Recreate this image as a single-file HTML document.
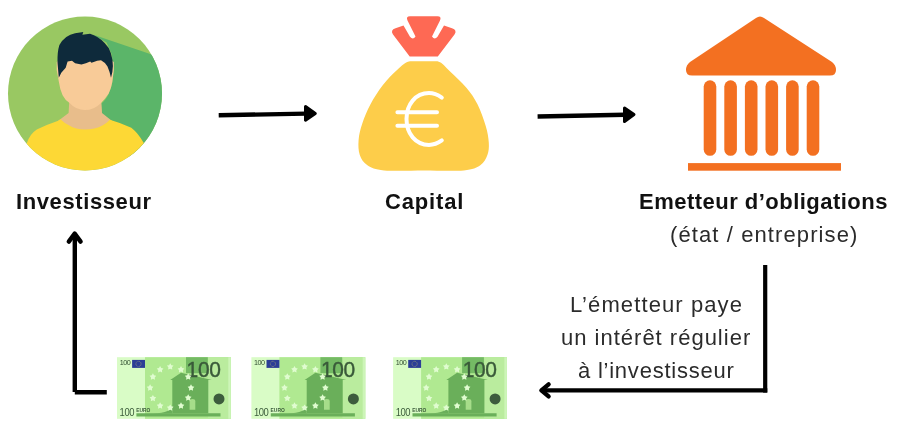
<!DOCTYPE html>
<html><head><meta charset="utf-8">
<style>
html,body{margin:0;padding:0;background:#fff;width:897px;height:438px;overflow:hidden;position:relative;font-family:"Liberation Sans",sans-serif;}
.t{position:absolute;white-space:nowrap;line-height:1;will-change:transform;}
.b{font-weight:bold;color:#111;font-size:22px;letter-spacing:0.6px;}
.r{color:#2b2b2b;font-size:22px;letter-spacing:1.1px;}
svg{position:absolute;left:0;top:0;will-change:transform;}
</style></head><body>
<svg width="897" height="438" viewBox="0 0 897 438">
  <defs>
    <clipPath id="cc"><circle cx="85" cy="93.5" r="77"/></clipPath>
    <g id="note">
      <rect x="0" y="0" width="113.8" height="61.6" fill="#d9fcc6"/>
      <rect x="28" y="0" width="85.8" height="61.6" fill="#b0e991"/>
      <rect x="91" y="0" width="22.8" height="61.6" fill="#baec9e"/>
      <rect x="111.3" y="0" width="2.5" height="61.6" fill="#cdf5b8"/>
      <rect x="69" y="0" width="21.8" height="16" fill="#74ba64"/>
      <path d="M64 15.6 L53.2 22.8 L55.3 22.8 L55.3 56 L91.3 56 L91.3 22.8 L94.9 22.8 Z" fill="#6aaf5a"/>
      <path d="M19.4 56 L103.5 56 L103.5 59.2 L19.4 59.2 Z" fill="#6aaf5a"/>
      <path d="M36 56.2 Q55.3 56.2 55.3 46 L55.3 56.2 Z" fill="#6aaf5a"/>
      <path d="M72.6 52.5 L72.6 44 Q72.6 41.7 75.4 41.7 Q78.3 41.7 78.3 44 L78.3 52.5 Z" fill="#a6dd8a"/>
      <circle cx="102" cy="41.7" r="5.5" fill="#3d5c3d"/>
      <rect x="15.1" y="2.7" width="12.9" height="8" fill="#2c3e96"/>
      <circle cx="21.5" cy="6.7" r="2.6" fill="none" stroke="#c9c36a" stroke-width="0.6" stroke-dasharray="0.7 0.7"/>
      <text x="2.7" y="8.3" font-family="Liberation Sans" font-size="7.2" fill="#2d4a2d" letter-spacing="-0.5">100</text>
      <g transform="translate(69.6 19.7) scale(0.92 1)"><text x="0" y="0" font-family="Liberation Sans" font-size="22.8" fill="#395939" stroke="#395939" stroke-width="0.45" letter-spacing="-0.4">100</text></g>
      <g transform="translate(2.6 58.3) scale(0.9 1)"><text x="0" y="0" font-family="Liberation Sans" font-size="10.5" fill="#3a5a3a" letter-spacing="-0.5">100</text></g>
      <text x="19.2" y="54.6" font-family="Liberation Sans" font-weight="bold" font-size="4.9" fill="#3a5a3a" letter-spacing="0">EURO</text>
      <path fill="#e0fcd0" d="M53.20 6.00 L54.33 7.94 L56.53 8.42 L55.03 10.09 L55.26 12.33 L53.20 11.43 L51.14 12.33 L51.37 10.09 L49.87 8.42 L52.07 7.94Z M43.10 8.90 L44.23 10.84 L46.43 11.32 L44.93 12.99 L45.16 15.23 L43.10 14.33 L41.04 15.23 L41.27 12.99 L39.77 11.32 L41.97 10.84Z M64.00 8.90 L65.13 10.84 L67.33 11.32 L65.83 12.99 L66.06 15.23 L64.00 14.33 L61.94 15.23 L62.17 12.99 L60.67 11.32 L62.87 10.84Z M35.90 16.10 L37.03 18.04 L39.23 18.52 L37.73 20.19 L37.96 22.43 L35.90 21.52 L33.84 22.43 L34.07 20.19 L32.57 18.52 L34.77 18.04Z M71.20 16.10 L72.33 18.04 L74.53 18.52 L73.03 20.19 L73.26 22.43 L71.20 21.52 L69.14 22.43 L69.37 20.19 L67.87 18.52 L70.07 18.04Z M33.10 27.10 L34.23 29.04 L36.43 29.52 L34.93 31.19 L35.16 33.43 L33.10 32.52 L31.04 33.43 L31.27 31.19 L29.77 29.52 L31.97 29.04Z M74.00 27.10 L75.13 29.04 L77.33 29.52 L75.83 31.19 L76.06 33.43 L74.00 32.52 L71.94 33.43 L72.17 31.19 L70.67 29.52 L72.87 29.04Z M35.90 37.70 L37.03 39.64 L39.23 40.12 L37.73 41.79 L37.96 44.03 L35.90 43.12 L33.84 44.03 L34.07 41.79 L32.57 40.12 L34.77 39.64Z M71.20 37.10 L72.33 39.04 L74.53 39.52 L73.03 41.19 L73.26 43.43 L71.20 42.52 L69.14 43.43 L69.37 41.19 L67.87 39.52 L70.07 39.04Z M43.10 45.10 L44.23 47.04 L46.43 47.52 L44.93 49.19 L45.16 51.43 L43.10 50.52 L41.04 51.43 L41.27 49.19 L39.77 47.52 L41.97 47.04Z M64.00 45.10 L65.13 47.04 L67.33 47.52 L65.83 49.19 L66.06 51.43 L64.00 50.52 L61.94 51.43 L62.17 49.19 L60.67 47.52 L62.87 47.04Z M53.20 47.20 L54.33 49.14 L56.53 49.62 L55.03 51.29 L55.26 53.53 L53.20 52.62 L51.14 53.53 L51.37 51.29 L49.87 49.62 L52.07 49.14Z"/>
    </g>
  </defs>
  <!-- avatar -->
  <circle cx="85" cy="93.5" r="77" fill="#99c862"/>
  <g clip-path="url(#cc)">
    <path d="M92.7 34.4 L200 71 L200 200 L150 200 L109.9 119.8 L102 114 L101.2 103.4 Q106 100 108.6 93.7 Q112 86 112.3 81.9 L113.8 70 L112.8 62.7 L111.6 53.9 L106.6 42.6 Z" fill="#5bb569"/>
    <path d="M69.3 100 L68.6 113 L58 121 L60 134 L112 134 L112 121 L102 113 L101.2 100 Z" fill="#e8bd8b"/>
    <path d="M10 200 L20 150 L26.9 143 Q30 134 36.8 129.6 Q48 124 58.2 120.7 L60.4 119.3 Q64 123 68.9 125.2 Q76 129.6 84.9 129.6 Q95 129.6 102.8 125.2 Q107 123 109.9 119.8 Q121 123 131.3 127.8 Q138 133 143.8 143 L160 200 Z" fill="#fdd835"/>
    <path d="M56.7 62 L56.7 70 L58.9 81.9 Q60 90 62.6 95.2 Q65 100 69.3 102.7 Q76 110 84.9 110 Q94 110 100.5 103.4 Q105 99 108.6 93.7 Q111.5 87 112.3 81.9 L113.8 70 L113.8 62 Q100 52 85 52 Q70 52 56.7 62 Z" fill="#f8cb98"/>
    <path d="M58.8 77.8 L57.5 62.7 Q57.2 52 59.4 45.1 Q62 40 66.3 36.9 Q70 34.5 75.1 33.2 L83.3 31.9 L82.4 34.8 L90 33.7 Q98 36 104.6 42.9 Q109 47 110.8 53 Q113 60 112.9 66 Q112.8 72 111 77.8 Q109.5 71 107.5 66.5 Q105.5 62.5 101 60.2 Q97 60.5 93.7 62 L91.5 62.7 L90.2 61.4 Q86 63.5 81.4 64.6 L75.1 63.3 L72 60.8 L67.6 61.4 L65.7 67.7 L61.3 72.8 Z" fill="#0e2a3b"/>
  </g>
  <!-- money bag -->
  <path d="M409.7 56.6 L437.8 56.6 L454.5 34.5 Q457.5 30 452 28.3 L444 25.6 L437.5 36.8 Q434.5 40.5 432 36.5 L440 20.5 Q441.8 16.2 437.5 16.2 L410 16.2 Q405.7 16.2 407.5 20.5 L415.5 36.5 Q413 40.5 410 36.8 L403.5 25.6 L395.5 28.3 Q390 30 393 34.5 Z" fill="#fe6954"/>
  <path d="M410 61.2 L437.5 61.2 C443 62.5 445.2 67.0 450.1 71.4 C455.0 75.9 462.0 82.4 466.6 87.9 C471.2 93.4 474.3 97.9 477.5 104.3 C480.7 110.7 483.9 119.8 485.8 126.2 C487.7 132.6 488.5 137.9 488.8 142.7 C489.1 147.5 488.8 151.2 487.4 155.0 C486.0 158.8 484.2 162.6 480.3 165.2 C476.4 167.8 473.2 169.5 463.8 170.4 C454.4 171.3 437.3 170.6 424.0 170.6 C410.7 170.6 393.5 171.3 384.1 170.4 C374.7 169.5 371.4 167.8 367.4 165.2 C363.3 162.6 361.3 159.2 359.8 155.0 C358.3 150.8 358.2 145.2 358.6 140.0 C359.0 134.8 360.3 129.4 362.3 123.5 C364.3 117.5 367.1 110.7 370.5 104.3 C373.9 97.9 378.4 90.9 382.9 85.1 C387.4 79.3 393.1 73.5 397.6 69.5 C402.1 65.5 404 62.5 410 61.2 Z" fill="#fdcd4a"/>
  <g fill="none" stroke="#fff" stroke-width="4" stroke-linecap="round">
    <path d="M441.8 97.6 C437.5 94.6 433 93.1 429 93.1 C415.5 93.1 406.5 104.5 406.5 119 C406.5 133.5 415.5 144.9 429 144.9 C433 144.9 437.5 143.5 441.8 140.4"/>
    <path d="M397.4 112.2 L437 112.2 M397.4 125.8 L437 125.8"/>
  </g>
  <!-- bank -->
  <path d="M760 16.5 Q758 16.5 756 18 L690 62 Q686 65 686 70 Q686 75.5 692 75.5 L830 75.5 Q836 75.5 836 70 Q836 65 832 62 L764 18 Q762 16.5 760 16.5 Z" fill="#f37021"/>
  <g fill="#f37021">
    <rect x="703.7" y="80.3" width="12.6" height="75.5" rx="6.3"/>
    <rect x="724.3" y="80.3" width="12.6" height="75.5" rx="6.3"/>
    <rect x="744.9" y="80.3" width="12.6" height="75.5" rx="6.3"/>
    <rect x="765.5" y="80.3" width="12.6" height="75.5" rx="6.3"/>
    <rect x="786.1" y="80.3" width="12.6" height="75.5" rx="6.3"/>
    <rect x="806.7" y="80.3" width="12.6" height="75.5" rx="6.3"/>
    <rect x="688" y="163.1" width="153" height="7.6"/>
  </g>
  <!-- arrows -->
  <g stroke="#000" stroke-width="4.4" fill="none" stroke-linecap="butt">
    <path d="M218.7 115.3 L306 113.6"/>
    <path d="M537.6 116.5 L625 114.7"/>
    <path d="M74.8 392 L74.8 236" />
    <path d="M74.8 392.2 L106.8 392.2"/>
    <path d="M765.2 265 L765.2 392.6" stroke-width="4.2"/>
    <path d="M767.3 390.4 L541 390.4"/>
  </g>
  <g fill="#000" stroke="#000" stroke-width="3" stroke-linejoin="round">
    <path d="M305.5 106.5 L315.3 113.4 L305.5 120.2 Z"/>
    <path d="M624.5 107.9 L634 114.5 L624.5 121.5 Z"/>
  </g>
  <g stroke="#000" stroke-width="4.4" fill="none" stroke-linecap="round" stroke-linejoin="round">
    <path d="M68.8 241.6 L74.7 233.6 L80.6 241.6"/>
    <path d="M548.6 384.4 L541.4 390.4 L548.6 396.4"/>
  </g>
  <use href="#note" x="117" y="357.2"/>
  <use href="#note" x="251.4" y="357.2"/>
  <use href="#note" x="393.1" y="357.2"/>
</svg>
<div class="t b" id="l1" style="left:15.8px;top:191px;">Investisseur</div>
<div class="t b" id="l2" style="left:385px;top:191px;letter-spacing:0.85px">Capital</div>
<div class="t b" id="l3" style="left:638.6px;top:191px;letter-spacing:0.48px">Emetteur d’obligations</div>
<div class="t r" id="l4" style="left:670px;top:224px;">(état / entreprise)</div>
<div class="t r" id="l5" style="left:570px;top:294px;">L’émetteur paye</div>
<div class="t r" id="l6" style="left:560.8px;top:327px;letter-spacing:1.0px">un intérêt régulier</div>
<div class="t r" id="l7" style="left:578px;top:360px;letter-spacing:0.77px">à l’investisseur</div>
</body></html>
